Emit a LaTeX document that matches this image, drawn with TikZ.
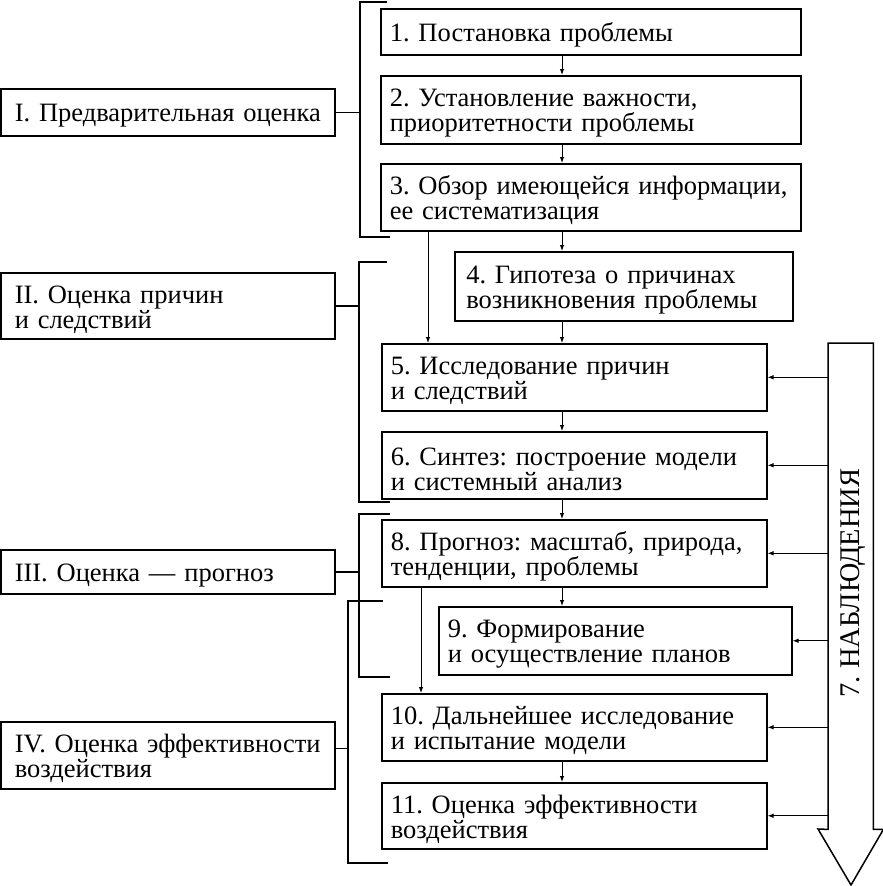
\documentclass[tikz,border=0pt]{standalone}
\usepackage{fontspec}
\setmainfont{Liberation Serif}
\frenchspacing
\usetikzlibrary{arrows.meta}

\tikzset{
  stepbox/.style={draw, line width=1.5pt, anchor=north west, align=left,
    inner xsep=9pt, inner ysep=2pt, text height=25pt, font=\fontsize{26.5}{25}\selectfont},
  phasebox/.style={stepbox, inner xsep=14pt, text width=306pt, minimum width=334pt},
  link/.style={line width=1pt, -{Latex[length=6pt,width=4.5pt]}},
  brace/.style={line width=1.5pt}
}

\begin{document}
\begin{tikzpicture}[x=1pt, y=-1pt]
\useasboundingbox (0,0) rectangle (883,886);

% phases on the left
\node[phasebox, minimum height=47pt] (ph1) at (0,88) {I.~Предварительная~оценка};
\node[phasebox, minimum height=66pt] (ph2) at (0,272) {II. Оценка причин\\и следствий};
\node[phasebox, minimum height=44pt] (ph3) at (0,549) {III. Оценка --- прогноз};
\node[phasebox, minimum height=67pt] (ph4) at (0,721) {IV. Оценка~эффективности\\воздействия};

% steps
\node[stepbox, text width=402pt, minimum height=46pt] (s1) at (380,8) {1. Постановка проблемы};
\node[stepbox, text width=402pt, minimum height=68pt] (s2) at (380,75) {2. Установление важности,\\приоритетности проблемы};
\node[stepbox, text width=402pt, minimum height=67pt] (s3) at (380,163) {3. Обзор имеющейся~информации,\\ее систематизация};
\node[stepbox, text width=315pt, minimum height=69pt, inner xsep=11.5pt] (s4) at (454,251) {4. Гипотеза о причинах\\возникновения проблемы};
\node[stepbox, text width=367pt, minimum height=67pt] (s5) at (381,343) {5. Исследование причин\\и следствий};
\node[stepbox, text width=367pt, minimum height=67pt] (s6) at (381,431) {6. Синтез: построение~модели\\и системный анализ};
\node[stepbox, text width=367pt, minimum height=67pt] (s8) at (381,519) {8. Прогноз: масштаб, природа,\\тенденции, проблемы};
\node[stepbox, text width=335pt, minimum height=68pt] (s9) at (438,606) {9. Формирование\\и осуществление планов};
\node[stepbox, text width=367pt, minimum height=67pt] (s10) at (381,693) {10. Дальнейшее исследование\\и испытание модели};
\node[stepbox, text width=367pt, minimum height=66pt] (s11) at (381,782) {11. Оценка эффективности\\воздействия};

% observation arrow
\node[minimum width=45pt, minimum height=486pt, inner sep=0pt, anchor=north west] (obs) at (828,343) {};
\draw[line width=1.5pt] (obs.south west) -- (obs.north west) -- (obs.north east) -- (obs.south east)
  -- ++(10,0) -- (851,885) -- (818,829) -- cycle;
\node[rotate=90, font=\fontsize{28.5}{25}\selectfont] (obslabel) at (853,583) {7. НАБЛЮДЕНИЯ};

% brackets
\coordinate (br1) at (360,0);
\coordinate (br2) at (359,0);
\coordinate (br4) at (348,0);
\draw[brace] (387,2) -- (360,2) -- (360,237) -- (390,237);
\draw[brace] (ph1.east) -- (ph1.east -| br1);
\draw[brace] (387,262) -- (359,262) -- (359,502) -- (390,502);
\draw[brace] (ph2.east) -- (ph2.east -| br2);
\draw[brace] (390,514) -- (359,514) -- (359,677) -- (390,677);
\draw[brace] (ph3.east) -- (ph3.east -| br2);
\draw[brace] (383,601) -- (348,601) -- (348,863) -- (388,863);
\draw[brace] ([yshift=7pt]ph4.east) -- ([yshift=7pt]ph4.east -| br4);

% main flow
\coordinate (spine) at (562,0);
\draw[link] (s1.south -| spine) -- (s2.north -| spine);
\draw[link] (s2.south -| spine) -- (s3.north -| spine);
\draw[link] (s3.south -| spine) -- (s4.north -| spine);
\draw[link] (s4.south -| spine) -- (s5.north -| spine);
\draw[link] (s5.south -| spine) -- (s6.north -| spine);
\draw[link] (s6.south -| spine) -- (s8.north -| spine);
\draw[link] (s8.south -| spine) -- (s9.north -| spine);
\draw[link] (s10.south -| spine) -- (s11.north -| spine);

% side links
\coordinate (skipA) at (428,0);
\coordinate (skipB) at (421,0);
\draw[link] (s3.south -| skipA) -- (s5.north -| skipA);
\draw[link] (s8.south -| skipB) -- (s10.north -| skipB);

% observations feed the steps
\foreach \s in {s5,s6,s8,s9,s10,s11}
  \draw[link] (\s.east -| obs.west) -- (\s.east);

\end{tikzpicture}
\end{document}
